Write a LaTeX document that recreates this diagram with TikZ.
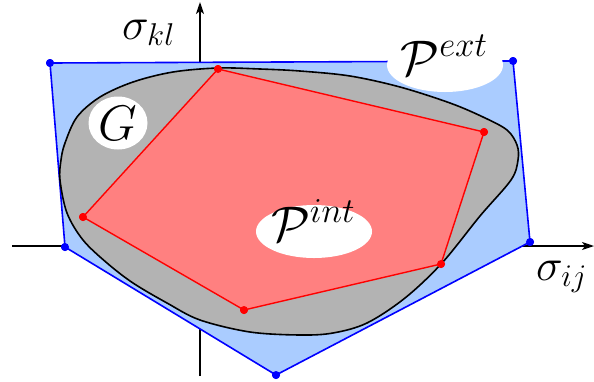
\documentclass[tikz,border=0pt]{standalone}
\usepackage{fix-cm}
\usetikzlibrary{arrows.meta,shapes.geometric}
\definecolor{extfill}{RGB}{170,204,255}
\definecolor{intfill}{RGB}{255,128,128}
\definecolor{gfill}{RGB}{179,179,179}
\tikzset{
  axis/.style={line width=1.4pt,-{Stealth[length=12pt,width=8pt,inset=3pt]}},
  extpoly/.style={fill=extfill,draw=blue,line width=1.6pt,line join=round},
  intpoly/.style={fill=intfill,draw=red,line width=1.4pt,line join=round},
  blob/.style={fill=gfill,draw=black,line width=1.6pt},
  vtx/.style={circle,inner sep=0pt,minimum size=8pt},
  extvtx/.style={vtx,fill=blue},
  intvtx/.style={vtx,fill=red},
  bubble/.style={ellipse,fill=white,inner sep=0pt},
  biglabel/.style={inner sep=0pt,font=\fontsize{50}{60}\selectfont},
  axlabel/.style={inner sep=0pt,font=\fontsize{45}{54}\selectfont},
}
\begin{document}
\begin{tikzpicture}[x=1pt,y=-1pt]
\useasboundingbox (0,0) rectangle (594,381);
% axes
\coordinate (hs) at (12,246);
\coordinate (he) at (594,246);
\coordinate (vs) at (200,376);
\coordinate (ve) at (200,2);
\draw[axis] (hs) -- (he);
\draw[axis] (vs) -- (ve);
% exterior polygon
\node[extvtx] (e1) at (50,63) {};
\node[extvtx] (e2) at (513,61) {};
\node[extvtx] (e3) at (530,242) {};
\node[extvtx] (e4) at (276,375) {};
\node[extvtx] (e5) at (65,247) {};
\path[extpoly] (e1.center) -- (e2.center) -- (e3.center) -- (e4.center) -- (e5.center) -- cycle;
% G region
\path[blob] plot[smooth cycle,tension=0.55] coordinates {
 (218,68) (260,69) (300,71) (350,76) (400,87) (450,103) (483,117) (507,130)
 (517,145) (518,160) (511,180) (480,216) (442,263) (405,298) (367,323)
 (333,333) (300,335) (250,332) (200,320) (167,303) (133,283) (107,263) (83,240)
 (67,213) (60,180) (61,160) (65,143) (77,117) (100,97) (133,82) (173,72)};
% interior polygon
\node[intvtx] (i1) at (218,69) {};
\node[intvtx] (i2) at (484,132) {};
\node[intvtx] (i3) at (441,264) {};
\node[intvtx] (i4) at (244,310) {};
\node[intvtx] (i5) at (83,217) {};
\path[intpoly] (i1.center) -- (i2.center) -- (i3.center) -- (i4.center) -- (i5.center) -- cycle;
% vertex dots on top
\foreach \n in {e1,e2,e3,e4,e5} \fill[blue] (\n) circle (4pt);
\foreach \n in {i1,i2,i3,i4,i5} \fill[red] (\n) circle (4pt);
% bubbles and labels
\node[bubble,minimum width=59pt,minimum height=53pt] (gb) at (118,123) {};
\node[biglabel] (gl) at (gb) {$G$};
\node[bubble,minimum width=116pt,minimum height=54pt] (peb) at (445,65) {};
\node[biglabel,anchor=base] (pel) at (444,75) {$\mathcal{P}^{ext}$};
\node[bubble,minimum width=116pt,minimum height=53pt] (pib) at (314,231.5) {};
\node[biglabel,anchor=base] (pil) at (313,241) {$\mathcal{P}^{int}$};
\node[axlabel,anchor=base west] (skl) at (122,39) {$\sigma_{kl}$};
\node[axlabel,anchor=base west] (sij) at (536,280) {$\sigma_{ij}$};
\end{tikzpicture}
\end{document}
